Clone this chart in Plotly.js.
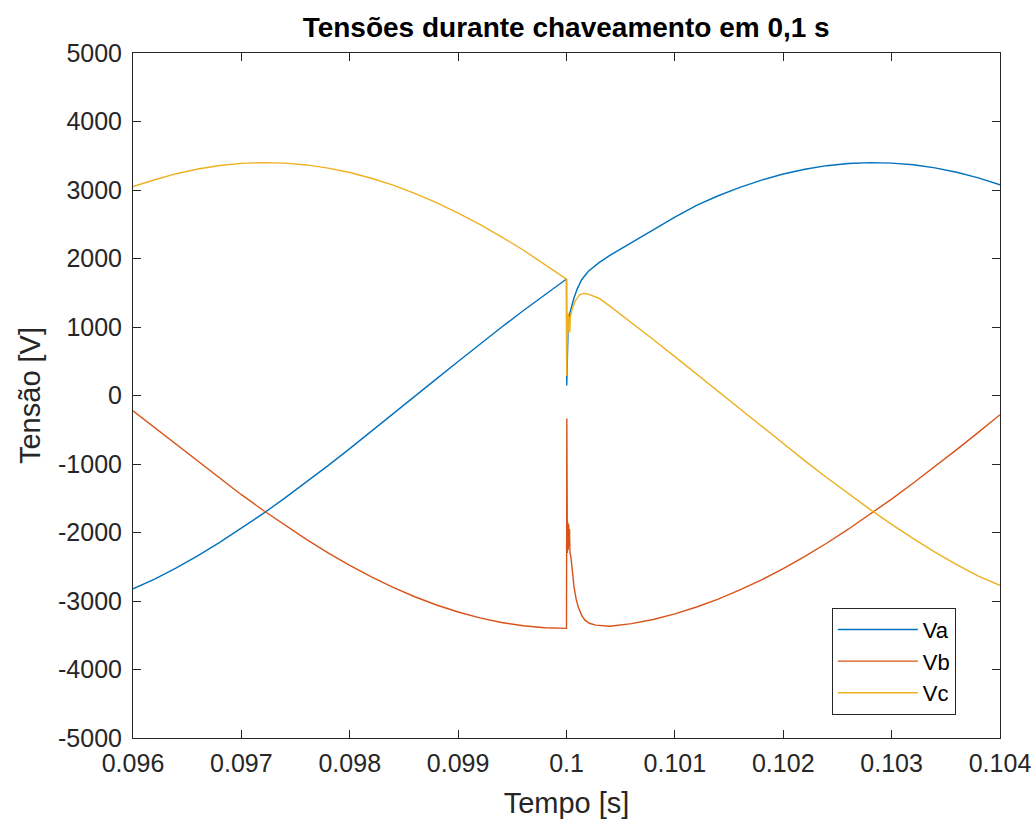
<!DOCTYPE html>
<html>
<head>
<meta charset="utf-8">
<script src="https://cdn.plot.ly/plotly-3.0.1.min.js"></script>
<style>html,body{margin:0;padding:0;background:#fff;}#chart{width:1036px;height:823px;}</style>
</head>
<body>
<div id="chart"></div>
<script>
// ---- data ----
var tPre = [0.0960,0.0962,0.0964,0.0966,0.0968,0.0970,0.0972,0.0974,0.0976,0.0978,0.0980,0.0982,0.0984,0.0986,0.0988,0.0990,0.0992,0.0994,0.0996,0.0998,0.1000];
var vaPre = [-2822,-2680,-2515,-2337,-2145,-1940,-1725,-1499,-1265,-1024,-776,-525,-270,-14,242,497,749,996,1238,1473,1700];
var vbPre = [-225,-470,-721,-969,-1212,-1448,-1675,-1893,-2101,-2296,-2479,-2647,-2800,-2938,-3058,-3161,-3246,-3313,-3362,-3390,-3400];
var vcPre = [3050,3150,3238,3307,3357,3388,3400,3392,3366,3320,3255,3172,3070,2952,2816,2664,2497,2317,2124,1917,1700];

var tVaPost = [0.100002,0.100008,0.100015,0.10003,0.10005,0.10007,0.10010,0.10014,0.1002,0.1003,0.1004,0.1006,0.1008,0.1010,0.1012,0.1014,0.1016,0.1018,0.1020,0.1022,0.1024,0.1026,0.1028,0.1030,0.1032,0.1034,0.1036,0.1038,0.1040];
var vaPost = [146,700,1000,1200,1330,1430,1560,1690,1810,1940,2045,2235,2425,2605,2776,2916,3039,3145,3234,3303,3355,3387,3400,3393,3368,3323,3259,3177,3076];

var tVbPost = [0.100003,0.100008,0.100012,0.100016,0.10002,0.100024,0.100028,0.100032,0.10004,0.10007,0.10009,0.10011,0.10014,0.10017,0.10021,0.10027,0.10033,0.1004,0.1006,0.1008,0.1010,0.1012,0.1014,0.1016,0.1018,0.1020,0.1022,0.1024,0.1026,0.1028,0.1030,0.1032,0.1034,0.1036,0.1038,0.1040];
var vbPost = [-336,-2300,-1850,-2250,-1880,-2200,-1950,-2300,-2350,-2800,-2980,-3095,-3210,-3280,-3325,-3352,-3363,-3368,-3330,-3270,-3187,-3088,-2972,-2839,-2691,-2527,-2349,-2157,-1952,-1737,-1512,-1278,-1037,-790,-539,-280];

var tVcPost = [0.100002,0.100006,0.10001,0.100014,0.100018,0.100022,0.100026,0.10003,0.100036,0.10005,0.10008,0.10012,0.10016,0.1002,0.1003,0.1004,0.1006,0.1008,0.1010,0.1012,0.1014,0.1016,0.1018,0.1020,0.1022,0.1024,0.1026,0.1028,0.1030,0.1032,0.1034,0.1036,0.1038,0.1040];
var vcPost = [290,1000,1200,900,1200,950,1150,920,1150,1250,1380,1470,1490,1480,1420,1304,1065,818,567,312,56,-200,-454,-707,-954,-1198,-1435,-1663,-1881,-2090,-2286,-2469,-2638,-2770];

var seriesNames = ['Va','Vb','Vc'];
var xTickVals = [0.096,0.097,0.098,0.099,0.1,0.101,0.102,0.103,0.104];
var xTickText = ['0.096','0.097','0.098','0.099','0.1','0.101','0.102','0.103','0.104'];
var yTickVals = [-5000,-4000,-3000,-2000,-1000,0,1000,2000,3000,4000,5000];
var yTickText = ['-5000','-4000','-3000','-2000','-1000','0','1000','2000','3000','4000','5000'];
var titleText = 'Tensões durante chaveamento em 0,1 s';
var xTitle = 'Tempo [s]';
var yTitle = 'Tensão [V]';

// ---- build ----
var colors = ['#0072BD','#D95319','#EDB120'];
var tAll = [tPre.concat(tVaPost), tPre.concat(tVbPost), tPre.concat(tVcPost)];
var vAll = [vaPre.concat(vaPost), vbPre.concat(vbPost), vcPre.concat(vcPost)];
var traces = seriesNames.map(function(n,i){
  return {x:tAll[i], y:vAll[i], type:'scatter', mode:'lines', name:n,
          line:{color:colors[i], width:1.4}};
});
var axCol = '#262626';
var font = 'Liberation Sans, Arial, Helvetica, sans-serif';
var layout = {
  width:1036, height:823,
  margin:{l:133, r:36, t:53, b:85},
  paper_bgcolor:'#fff', plot_bgcolor:'#fff',
  font:{family:font, color:axCol, size:24},
  title:{text:'<b>'+titleText+'</b>', x:0.5465, xanchor:'center', y:0.967, yanchor:'middle',
         font:{family:font, size:28, color:'#000'}},
  xaxis:{range:[0.096,0.104], tickvals:xTickVals, ticktext:xTickText, ticks:'inside', ticklen:8,
         tickcolor:axCol, showline:true, linecolor:axCol, linewidth:1, mirror:'ticks',
         showgrid:false, zeroline:false, tickfont:{size:25, color:axCol}, ticklabelstandoff:3,
         title:{text:xTitle, font:{size:29, color:axCol}, standoff:16}},
  yaxis:{range:[-5000,5000], tickvals:yTickVals, ticktext:yTickText, ticks:'inside', ticklen:8,
         tickcolor:axCol, showline:true, linecolor:axCol, linewidth:1, mirror:'ticks',
         showgrid:false, zeroline:false, tickfont:{size:25, color:axCol}, ticklabelstandoff:5,
         title:{text:yTitle, font:{size:29, color:axCol}, standoff:8}},
  showlegend:true,
  legend:{x:0.949, y:0.034, xanchor:'right', yanchor:'bottom', bgcolor:'#fff',
          bordercolor:axCol, borderwidth:1, font:{size:22, color:'#000'}, itemwidth:80,
          tracegroupgap:0}
};
Plotly.newPlot('chart', traces, layout, {displayModeBar:false, staticPlot:true});
</script>
</body>
</html>
